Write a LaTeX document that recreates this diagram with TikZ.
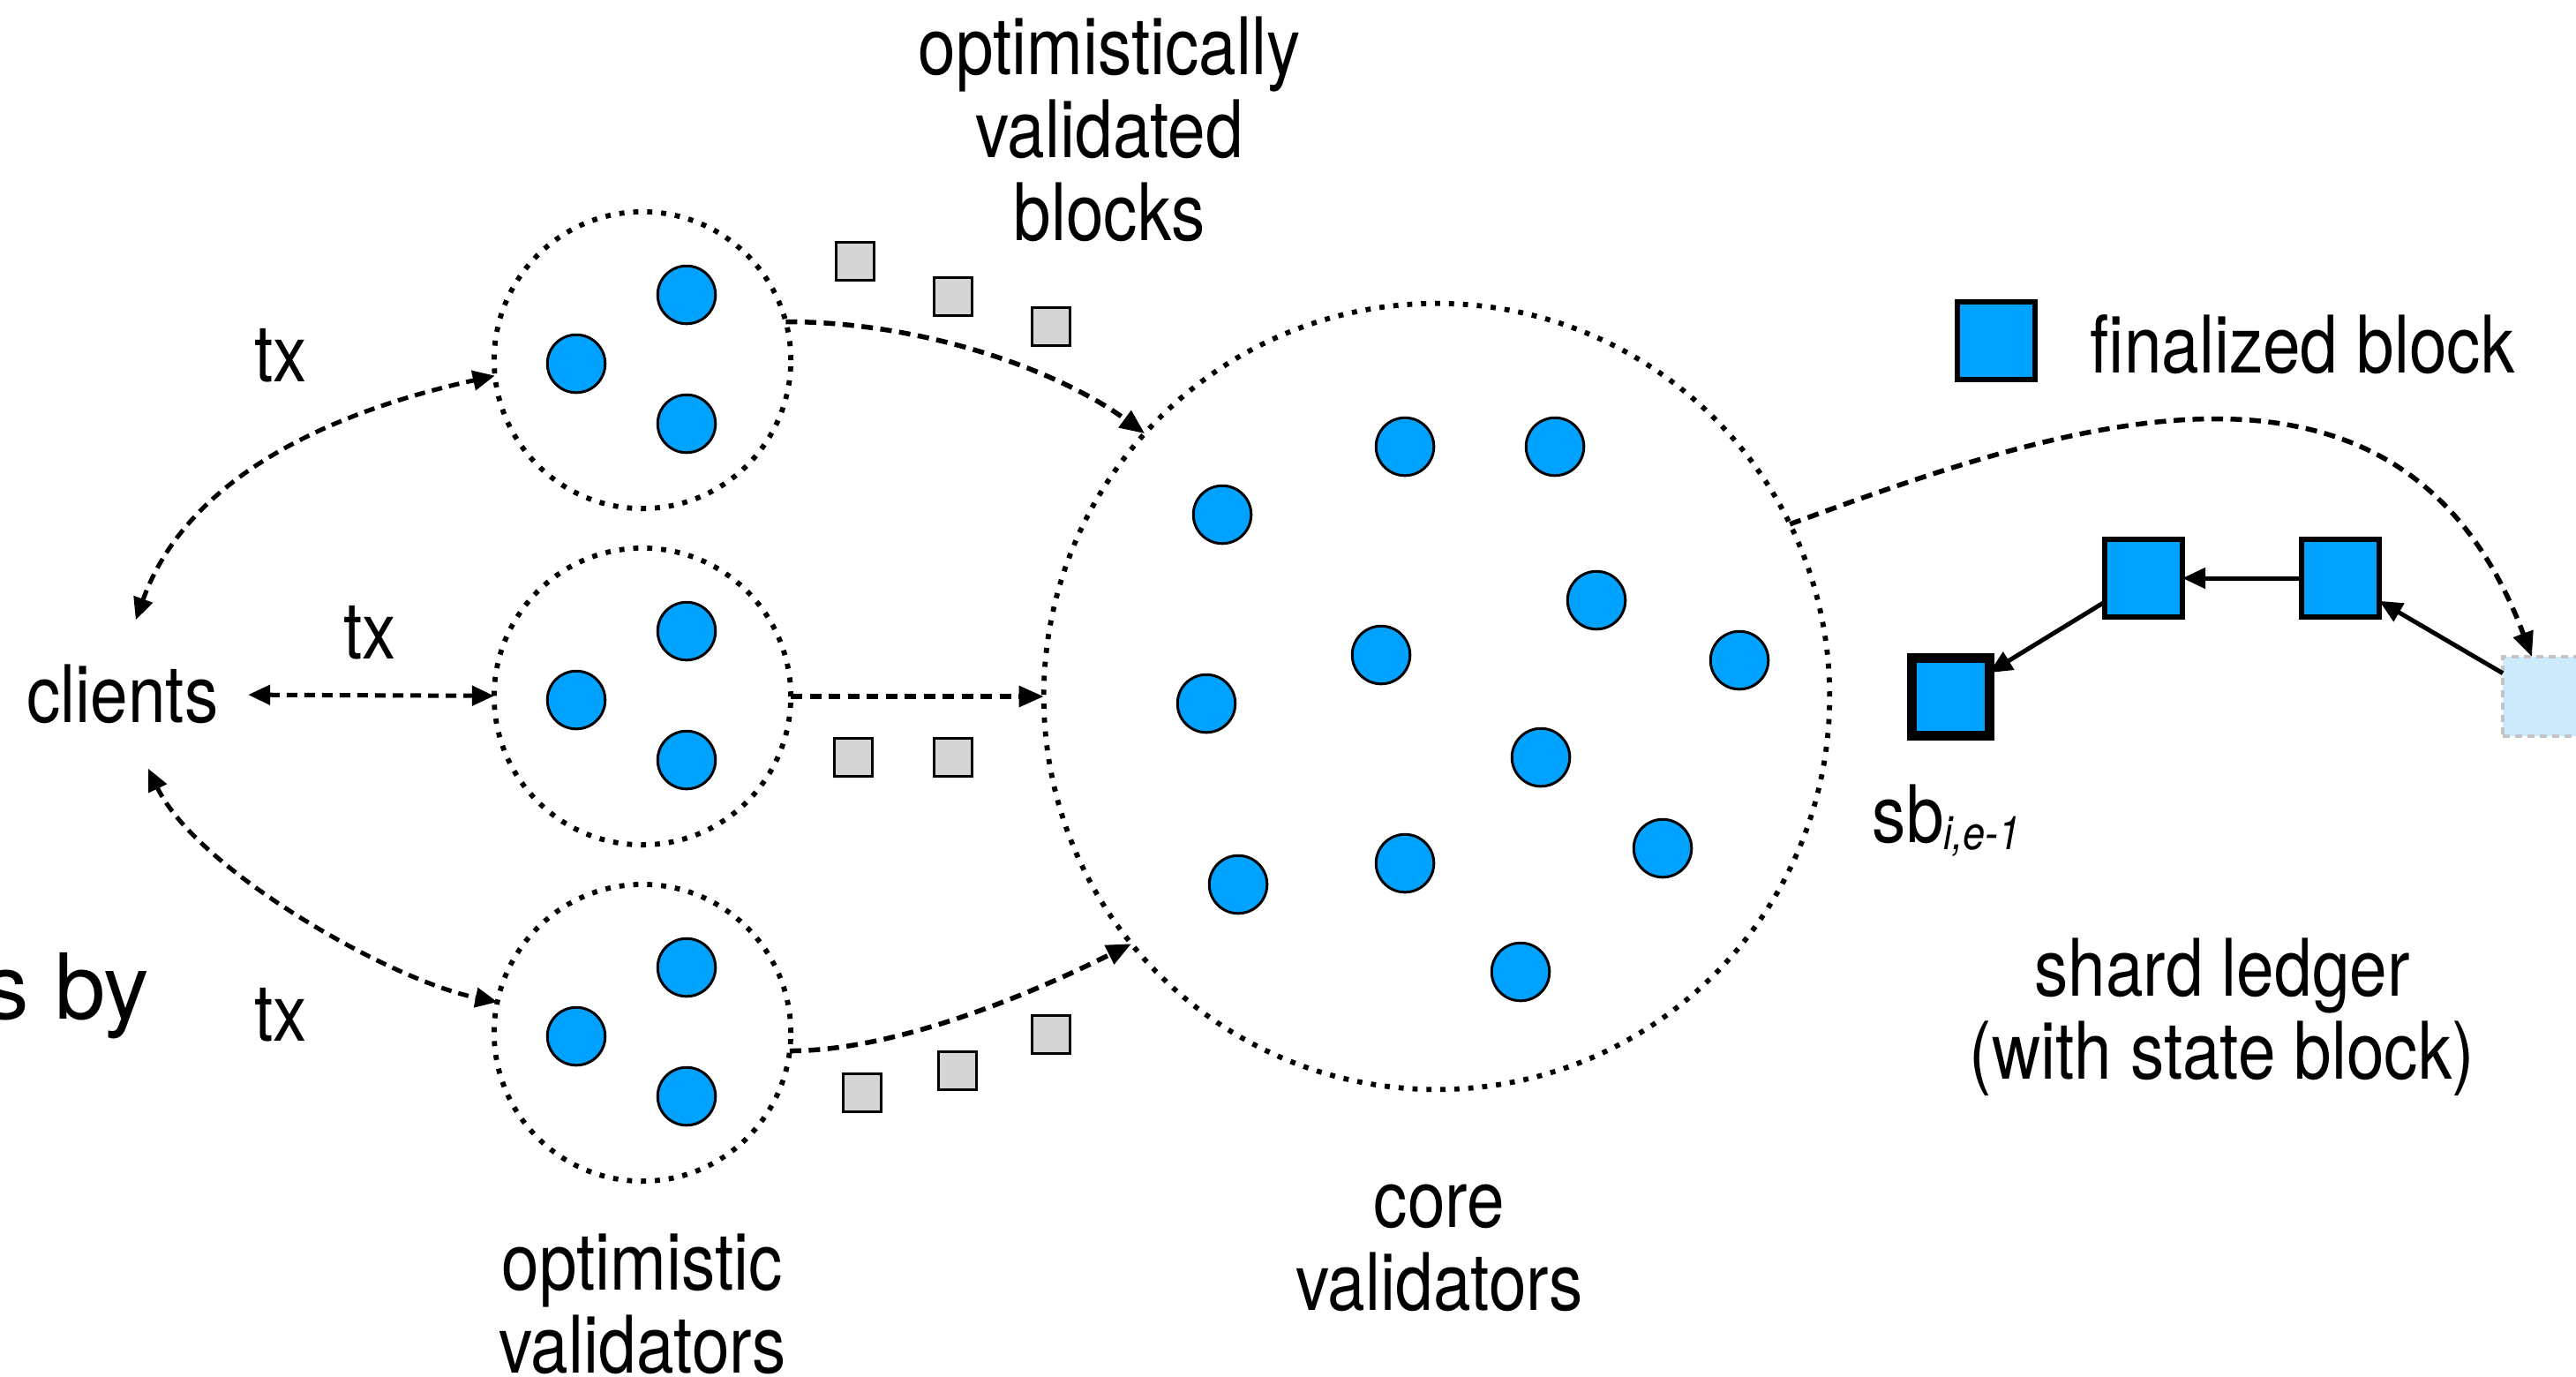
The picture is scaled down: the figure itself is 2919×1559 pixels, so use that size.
\documentclass[tikz,border=0pt]{standalone}
\usepackage{fontspec}
\setmainfont{TeX Gyre Heros}[FakeStretch=0.85]
\newfontfamily\widesans{TeX Gyre Heros}
\usetikzlibrary{arrows.meta}

\definecolor{valblue}{HTML}{00A2FF}
\definecolor{pendgray}{HTML}{D5D5D5}
\definecolor{nextblue}{HTML}{CDEBFD}
\definecolor{nextedge}{HTML}{C4C4C4}

\begin{document}
\begin{tikzpicture}[
  x=0.01cm, y=-0.01cm,
  txt/.style={font=\fontsize{25.6}{26.8}\selectfont, inner sep=0pt, anchor=base},
  grp/.style={circle, draw, line width=0.058cm, dash pattern=on 0.058cm off 0.10cm,
              minimum size=3.36cm, inner sep=0pt, outer sep=0pt},
  corering/.style={grp, minimum size=8.9cm},
  val/.style={circle, draw, fill=valblue, line width=0.03cm, minimum size=0.655cm, inner sep=0pt},
  pend/.style={draw, fill=pendgray, line width=0.03cm, minimum size=0.435cm, inner sep=0pt},
  blk/.style={draw, fill=valblue, line width=0.055cm, minimum size=0.88cm, inner sep=0pt, outer sep=0pt},
  flow/.style={line width=0.055cm, dash pattern=on 0.13cm off 0.085cm,
               -{Triangle[length=0.28cm,width=0.23cm]}},
  txflow/.style={line width=0.05cm, dash pattern=on 0.12cm off 0.08cm,
               {Triangle[length=0.25cm,width=0.22cm]}-{Triangle[length=0.25cm,width=0.22cm]}},
  link/.style={line width=0.05cm, -{Triangle[length=0.26cm,width=0.23cm]}},
]
\useasboundingbox (0,0) rectangle (2919,1559);

% optimistic validator groups
\node[grp] (ot) at (728,408) {};
\node[grp] (om) at (728,789) {};
\node[grp] (ob) at (728,1170) {};
\foreach \g/\c in {t/408, m/789, b/1170} {
  \node[val] (v\g1) at (778,\c-74) {};
  \node[val] (v\g2) at (653,\c+4) {};
  \node[val] (v\g3) at (778,\c+72) {};
}

% core validator committee
\node[corering] (core) at (1628,789) {};
\foreach \x/\y [count=\i] in {1592/506, 1762/506, 1385/583, 1809/680, 1565/742, 1971/748,
                              1367/797, 1746/858, 1884/961, 1403/1002, 1592/978, 1723/1101} {
  \node[val] (c\i) at (\x,\y) {};
}

% optimistically validated blocks in flight
\node[pend] (pt1) at (969,296) {};
\node[pend] (pt2) at (1080,336) {};
\node[pend] (pt3) at (1191,370) {};
\node[pend] (pm1) at (967,858) {};
\node[pend] (pm2) at (1080,858) {};
\node[pend] (pb1) at (977,1238) {};
\node[pend] (pb2) at (1085,1213) {};
\node[pend] (pb3) at (1191,1172) {};

% clients
\node[txt, anchor=center, inner xsep=0.33cm, inner ysep=0.5cm] (clients) at (139,786.5) {clients};
\node[txt] (tx1) at (318,432) {tx};
\node[txt] (tx2) at (419,746) {tx};
\node[txt] (tx3) at (318,1179) {tx};

\draw[txflow] (clients.80) .. controls +(67,-186) and +(-131,29) .. (ot.186);
\draw[txflow] (clients) -- (om);
\draw[txflow] (clients.-71) .. controls +(54,113) and +(-124,-25) .. (ob.168);

% blocks flowing into the core committee
\draw[flow] (ot.15) .. controls +(157,0) and +(-97,-71) .. (core.138);
\draw[flow] (om) -- (core);
\draw[flow] (ob.-7) .. controls +(135,0) and +(-82,41) .. (core.219);

% shard ledger
\node[blk, line width=0.11cm] (sbA) at (2210,789) {};
\node[blk] (sbB) at (2429,655) {};
\node[blk] (sbC) at (2652,655) {};
\node[draw=nextedge, fill=nextblue, line width=0.04cm, dash pattern=on 0.08cm off 0.06cm,
      minimum size=0.9cm, inner sep=0pt, outer sep=0pt] (next) at (2881,789) {};
\draw[link] (sbB) -- (sbA);
\draw[link] (sbC) -- (sbB);
\draw[link] (next) -- (sbC);
\draw[flow] (core.26) .. controls +(300,-110) and +(-150,-400) .. (next.105);

% legend
\node[blk] (legend) at (2262,386) {};
\node[txt, anchor=base west] (legendtxt) at (2368,422) {finalized block};

% labels
\node[txt] (ovb1) at (1257,84) {optimistically};
\node[txt] (ovb2) at (1257,178) {validated};
\node[txt] (ovb3) at (1257,272) {blocks};
\node[txt] (optl1) at (728,1461) {optimistic};
\node[txt] (optl2) at (728,1555) {validators};
\node[txt] (corel1) at (1631,1390) {core};
\node[txt] (corel2) at (1631,1484) {validators};
\node[txt] (shard1) at (2518,1128) {shard ledger};
\node[txt] (shard2) at (2518,1222) {(with state block)};
\node[txt, anchor=base west] (sb) at (2121,954)
  {sb\raisebox{-0.08cm}{\fontsize{15}{15}\selectfont\itshape i,e-1}};
\node[anchor=base east, inner sep=0pt, font=\widesans\fontsize{29.3}{30}\selectfont] (by) at (170,1154) {s by};
\end{tikzpicture}
\end{document}
